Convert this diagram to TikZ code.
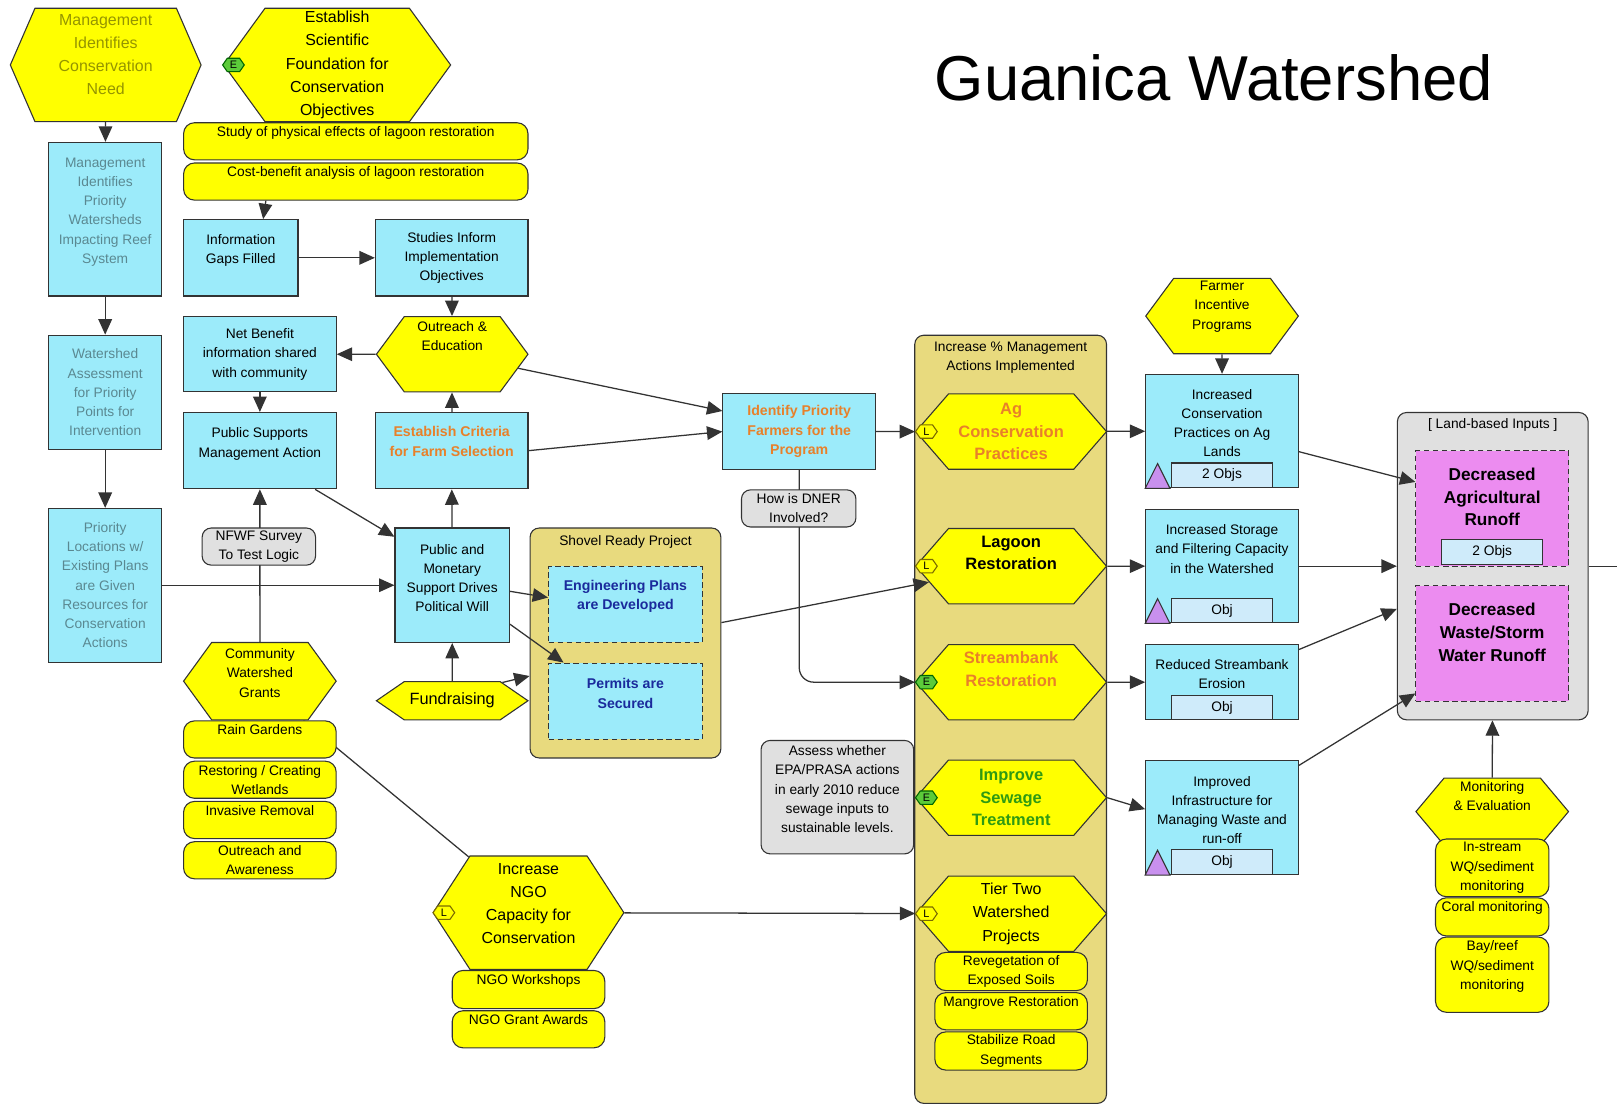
\documentclass[tikz,border=0pt]{standalone}
\usepackage{fontspec}
\setmainfont{Liberation Sans}
\usepackage{tikz}
\usetikzlibrary{shapes.symbols, arrows.meta, positioning, calc}
\definecolor{cyanbox}{HTML}{9CEBFA}
\definecolor{hexyel}{HTML}{FFFF00}
\definecolor{khaki}{HTML}{E8DA7E}
\definecolor{greybox}{HTML}{E0E0E0}
\definecolor{runoff}{HTML}{EC8CF0}
\definecolor{objblue}{HTML}{CFEBFA}
\definecolor{lilac}{HTML}{C890EE}
\definecolor{orangetxt}{HTML}{E8802A}
\definecolor{greentxt}{HTML}{2F9A12}
\definecolor{bluetxt}{HTML}{1A2A9C}
\definecolor{lineclr}{HTML}{333333}
\definecolor{badgegreen}{HTML}{5CCB3A}
\definecolor{badgeline}{HTML}{7A6A00}
\pgfdeclarelayer{back}
\pgfdeclarelayer{links}
\pgfsetlayers{back,links,main}

\begin{document}
\begin{tikzpicture}[x=0.02cm, y=-0.02cm,
  box/.style={rectangle, draw=lineclr, fill=cyanbox, line width=0.6pt, align=center,
    inner sep=1pt, font=\fontsize{7.6}{10.6}\selectfont},
  hexa/.style={signal, signal to=east and west, draw=lineclr, fill=hexyel, line width=0.6pt,
    align=center, inner sep=1pt, font=\fontsize{7.6}{10.6}\selectfont},
  pill/.style={rectangle, rounded corners=6pt, draw=lineclr, fill=hexyel, line width=0.6pt,
    align=center, inner sep=1pt, font=\fontsize{7.6}{10.6}\selectfont},
  pilltop/.style={pill, text depth=11pt},
  note/.style={rectangle, rounded corners=5pt, draw=lineclr, fill=greybox, line width=0.6pt,
    align=center, inner sep=1pt, font=\fontsize{7.6}{10.6}\selectfont},
  group/.style={rectangle, rounded corners=5pt, draw=lineclr, line width=0.6pt},
  plan/.style={box, dashed, dash pattern=on 3pt off 2pt, text=bluetxt,
    font=\fontsize{7.8}{10.8}\selectfont\bfseries},
  goal/.style={rectangle, draw=lineclr, dashed, dash pattern=on 3pt off 2pt, fill=runoff,
    line width=0.6pt, align=center, inner sep=1pt, font=\fontsize{9.5}{12.5}\selectfont\bfseries},
  objbox/.style={rectangle, draw=lineclr, fill=objblue, line width=0.6pt, minimum width=1.96cm,
    minimum height=0.48cm, inner sep=0pt, font=\fontsize{7.6}{10.6}\selectfont},
  badge/.style={signal, signal to=east and west, signal pointer angle=110, minimum width=0.42cm,
    minimum height=0.26cm, inner sep=0pt, line width=0.6pt, font=\fontsize{6}{6}\selectfont},
  lbadge/.style={badge, draw=badgeline, fill=hexyel},
  ebadge/.style={badge, draw=green!40!black, fill=badgegreen},
  tri/.style={draw=lineclr, fill=lilac, line width=0.6pt},
  faded/.style={text opacity=0.42},
  bigtxt/.style={font=\fontsize{8.8}{12.8}\selectfont},
  boldtxt/.style={font=\fontsize{9.1}{12.5}\selectfont\bfseries},
  boldsmall/.style={font=\fontsize{7.8}{10.8}\selectfont\bfseries},
  arr/.style={-{Triangle[length=8.5pt,width=7.5pt]}, draw=lineclr, line width=0.7pt},
]
  \useasboundingbox (0,0) rectangle (1568,1072);

  % containers
  \begin{pgfonlayer}{back}
    \node[group, fill=khaki, minimum width=3.7cm, minimum height=4.46cm] (shovel) at (606.5,623.5) {};
    \node[group, fill=khaki, minimum width=3.72cm, minimum height=14.9cm] (actions) at (980,697.5) {};
    \node[group, fill=greybox, minimum width=3.7cm, minimum height=5.96cm] (land) at (1447.5,549) {};
  \end{pgfonlayer}
  \node[font=\fontsize{7.6}{10.6}\selectfont, below=0.03cm of shovel.north] (shovel-t) {Shovel Ready Project};
  \node[font=\fontsize{7.6}{10.6}\selectfont, align=center, below=0.02cm of actions.north] (actions-t)
    {Increase \% Management\\Actions Implemented};
  \node[font=\fontsize{7.6}{10.6}\selectfont, below=0pt of land.north] (land-t) {[ Land-based Inputs ]};

  \node[font=\fontsize{35}{40}\selectfont, inner sep=0pt] (title) at (1177,75) {Guanica Watershed};

  % left column
  \node[hexa, faded, bigtxt, minimum width=3.7cm, minimum height=2.2cm, signal pointer angle=133,
    text depth=11.5pt] (need) at (102.5,63) {Management\\Identifies\\Conservation\\Need};
  \node[box, faded, minimum width=2.2cm, minimum height=2.98cm, text depth=9.5pt] (priority) at (102,212.5)
    {Management\\Identifies\\Priority\\Watersheds\\Impacting Reef\\System};
  \node[box, faded, minimum width=2.2cm, minimum height=2.22cm] (assess) at (102,380.5)
    {Watershed\\Assessment\\for Priority\\Points for\\Intervention};
  \node[box, faded, minimum width=2.2cm, minimum height=2.98cm] (locations) at (102,567.5)
    {Priority\\Locations w/\\Existing Plans\\are Given\\Resources for\\Conservation\\Actions};

  % science and outreach
  \node[hexa, bigtxt, minimum width=4.4cm, minimum height=2.2cm, signal pointer angle=108] (science) at (327,63)
    {Establish\\Scientific\\Foundation for\\Conservation\\Objectives};
  \node[ebadge] (science-e) at ($(science.west)+(10,0)$) {E};
  \node[pilltop, minimum width=6.68cm, minimum height=0.72cm] (physical) at (345,137)
    {Study of physical effects of lagoon restoration};
  \node[pilltop, minimum width=6.68cm, minimum height=0.72cm, below=0.04cm of physical] (costben)
    {Cost-benefit analysis of lagoon restoration};
  \node[box, minimum width=2.22cm, minimum height=1.48cm, text depth=10pt] (gaps) at (233.5,250)
    {Information\\Gaps Filled};
  \node[box, minimum width=2.96cm, minimum height=1.48cm] (inform) at (438,250)
    {Studies Inform\\Implementation\\Objectives};
  \node[hexa, minimum width=2.94cm, minimum height=1.46cm, signal pointer angle=107, text depth=20pt]
    (outreach) at (438.5,343.5) {Outreach \&\\Education};
  \node[box, minimum width=2.96cm, minimum height=1.46cm] (benefit) at (252,343.5)
    {Net Benefit\\information shared\\with community};
  \node[box, minimum width=2.96cm, minimum height=1.48cm, text depth=9pt] (support) at (252,437)
    {Public Supports\\Management Action};
  \node[box, boldsmall, text=orangetxt, minimum width=2.96cm, minimum height=1.48cm, text depth=10pt]
    (criteria) at (438,437) {Establish Criteria\\for Farm Selection};
  \node[note, minimum width=2.2cm, minimum height=0.72cm] (nfwf) at (251,530) {NFWF Survey\\To Test Logic};
  \node[box, minimum width=2.22cm, minimum height=2.22cm, text depth=8pt] (political) at (438.5,567.5)
    {Public and\\Monetary\\Support Drives\\Political Will};
  \node[hexa, minimum width=2.96cm, minimum height=1.5cm, signal pointer angle=108, text depth=9pt]
    (grants) at (252,660.5) {Community\\Watershed\\Grants};
  \node[hexa, font=\fontsize{9}{11}\selectfont, minimum width=2.94cm, minimum height=0.74cm,
    signal pointer angle=69] (funds) at (438.5,679.5) {Fundraising};
  \node[plan, minimum width=2.98cm, minimum height=1.48cm, text depth=10.5pt] (engineering) at (606.5,586)
    {Engineering Plans\\are Developed};
  \node[plan, minimum width=2.98cm, minimum height=1.48cm, text depth=9pt] (permits) at (606.5,680)
    {Permits are\\Secured};

  % NGO capacity
  \node[hexa, bigtxt, minimum width=3.7cm, minimum height=2.2cm, signal pointer angle=114, text depth=10pt]
    (ngo) at (512.5,885) {Increase\\NGO\\Capacity for\\Conservation};
  \node[lbadge] (ngo-l) at ($(ngo.west)+(11,0)$) {L};
  \draw[arr] (ngo.137) -- (grants.-42);
  \node[pilltop, minimum width=2.96cm, minimum height=0.72cm, below=0pt of grants] (rain) {Rain Gardens};
  \node[pill, minimum width=2.96cm, minimum height=0.72cm, below=0.04cm of rain] (wetlands)
    {Restoring / Creating\\Wetlands};
  \node[pilltop, minimum width=2.96cm, minimum height=0.72cm, below=0.04cm of wetlands] (invasive)
    {Invasive Removal};
  \node[pill, minimum width=2.96cm, minimum height=0.72cm, below=0.04cm of invasive] (awareness)
    {Outreach and\\Awareness};
  \node[pilltop, minimum width=2.96cm, minimum height=0.74cm, below=0pt of ngo] (workshops) {NGO Workshops};
  \node[pilltop, minimum width=2.96cm, minimum height=0.72cm, below=0.02cm of workshops] (awards)
    {NGO Grant Awards};

  % farmers and notes
  \node[box, boldsmall, text=orangetxt, minimum width=2.96cm, minimum height=1.46cm] (farmers) at (775,418.5)
    {Identify Priority\\Farmers for the\\Program};
  \node[note, minimum width=2.22cm, minimum height=0.72cm] (dner) at (774.5,493) {How is DNER\\Involved?};
  \node[note, minimum width=2.96cm, minimum height=2.2cm, text depth=9pt] (epa) at (812,773)
    {Assess whether\\EPA/PRASA actions\\in early 2010 reduce\\sewage inputs to\\sustainable levels.};

  % management actions
  \node[hexa, boldtxt, text=orangetxt, minimum width=3.7cm, minimum height=1.46cm, signal pointer angle=98]
    (agcons) at (980.5,418.5) {Ag\\Conservation\\Practices};
  \node[hexa, boldtxt, minimum width=3.7cm, minimum height=1.46cm, signal pointer angle=98, text depth=14.8pt]
    (lagoon) at (980.5,549) {Lagoon\\Restoration};
  \node[hexa, boldtxt, text=orangetxt, minimum width=3.7cm, minimum height=1.46cm, signal pointer angle=98,
    text depth=14.8pt] (stream) at (980.5,661.5) {Streambank\\Restoration};
  \node[hexa, boldtxt, text=greentxt, minimum width=3.7cm, minimum height=1.46cm, signal pointer angle=98]
    (sewage) at (980.5,773.5) {Improve\\Sewage\\Treatment};
  \node[hexa, bigtxt, minimum width=3.7cm, minimum height=1.46cm, signal pointer angle=98]
    (tiertwo) at (980.5,886) {Tier Two\\Watershed\\Projects};
  \node[lbadge] (agcons-l) at ($(agcons.west)+(11,0)$) {L};
  \node[lbadge] (lagoon-l) at ($(lagoon.west)+(11,0)$) {L};
  \node[ebadge] (stream-e) at ($(stream.west)+(11,0)$) {E};
  \node[ebadge] (sewage-e) at ($(sewage.west)+(11,0)$) {E};
  \node[lbadge] (tiertwo-l) at ($(tiertwo.west)+(11,0)$) {L};
  \node[pill, minimum width=2.96cm, minimum height=0.74cm, below=0pt of tiertwo] (reveg)
    {Revegetation of\\Exposed Soils};
  \node[pilltop, minimum width=2.96cm, minimum height=0.72cm, below=0.02cm of reveg] (mangrove)
    {Mangrove Restoration};
  \node[pill, minimum width=2.96cm, minimum height=0.74cm, below=0.02cm of mangrove] (roads)
    {Stabilize Road\\Segments};

  % outcomes
  \node[hexa, minimum width=2.96cm, minimum height=1.46cm, signal pointer angle=107, text depth=12pt]
    (incentive) at (1185,306.5) {Farmer\\Incentive\\Programs};
  \node[box, minimum width=2.96cm, minimum height=2.2cm, text depth=9pt] (agpract) at (1185,418)
    {Increased\\Conservation\\Practices on Ag\\Lands};
  \node[objbox, anchor=south] (agpract-o) at (agpract.south) {2 Objs};
  \filldraw[tri] (agpract.south west) -- ++(12,-24) -- ++(12,24) -- cycle;
  \node[box, minimum width=2.96cm, minimum height=2.2cm, text depth=19pt] (storage) at (1185,549)
    {Increased Storage\\and Filtering Capacity\\in the Watershed};
  \node[objbox, anchor=south] (storage-o) at (storage.south) {Obj};
  \filldraw[tri] (storage.south west) -- ++(12,-24) -- ++(12,24) -- cycle;
  \node[box, minimum width=2.96cm, minimum height=1.46cm, text depth=9pt] (erosion) at (1185,661.5)
    {Reduced Streambank\\Erosion};
  \node[objbox, anchor=south] (erosion-o) at (erosion.south) {Obj};
  \node[box, minimum width=2.96cm, minimum height=2.22cm, text depth=8pt] (infra) at (1185,792.5)
    {Improved\\Infrastructure for\\Managing Waste and\\run-off};
  \node[objbox, anchor=south] (infra-o) at (infra.south) {Obj};
  \filldraw[tri] (infra.south west) -- ++(12,-24) -- ++(12,24) -- cycle;

  % land-based inputs
  \node[goal, minimum width=2.96cm, minimum height=2.24cm, text depth=12.5pt] (agrunoff) at (1447,493)
    {Decreased\\Agricultural\\Runoff};
  \node[objbox, anchor=south] (agrunoff-o) at ($(agrunoff.south)+(0,-2)$) {2 Objs};
  \node[goal, minimum width=2.96cm, minimum height=2.24cm, text depth=12.5pt] (wasterunoff) at (1447,624)
    {Decreased\\Waste/Storm\\Water Runoff};
  \node[hexa, minimum width=2.96cm, minimum height=1.3cm, signal pointer angle=100, text depth=17pt]
    (monitor) at (1447,787) {Monitoring\\\& Evaluation};
  \node[pill, minimum width=2.2cm, minimum height=1.12cm, below=-0.14cm of monitor] (instream)
    {In-stream\\WQ/sediment\\monitoring};
  \node[pilltop, minimum width=2.2cm, minimum height=0.74cm, below=0pt of instream] (coral) {Coral monitoring};
  \node[pill, minimum width=2.2cm, minimum height=1.46cm, text depth=10.5pt, below=0pt of coral] (bayreef)
    {Bay/reef\\WQ/sediment\\monitoring};
  \coordinate (offpage) at (1568,549);

  % connectors
  \begin{pgfonlayer}{links}
    \draw[arr] (need) -- (priority);
    \draw[arr] (priority) -- (assess);
    \draw[arr] (assess) -- (locations);
    \draw[arr] (costben.192) -- (gaps.60);
    \draw[arr] (gaps) -- (inform);
    \draw[arr] (inform) -- (outreach);
    \draw[arr] (outreach) -- (benefit);
    \draw[arr] (benefit) -- (support);
    \draw[arr] (criteria) -- (outreach);
    \draw[arr] (political) -- (criteria);
    \draw[arr] (support.-35) -- (political.140);
    \draw[arr] (grants) -- (support);
    \draw[arr] (locations) -- (political);
    \draw[arr] (funds) -- (political);
    \draw[arr] (funds.20) -- (shovel.199);
    \draw[arr] (political.-6) -- (engineering.175);
    \draw[arr] (political.-34) -- (permits.148);
    \draw[arr] (outreach.-12) -- (farmers.165);
    \draw[arr] (criteria.east) -- (farmers.west);
    \draw[arr] (farmers) -- (agcons);
    \draw[arr, rounded corners=8pt] (farmers.south) |- (stream.west);
    \draw[arr] (shovel.12) -- (lagoon.191);
    \draw[arr] (ngo) -- (tiertwo);
    \draw[arr] (agcons) -- (agpract);
    \draw[arr] (lagoon) -- (storage);
    \draw[arr] (stream) -- (erosion);
    \draw[arr] (sewage.east) -- (infra.174);
    \draw[arr] (incentive) -- (agpract);
    \draw[arr] (agpract.-15) -- (agrunoff.161);
    \draw[arr] (storage) -- (land);
    \draw[arr] (erosion.23) -- (land.204);
    \draw[arr] (infra.34) -- (wasterunoff.213);
    \draw[arr] (monitor) -- (land);
    \draw[draw=lineclr, line width=0.7pt] (land.east) -- (offpage);
  \end{pgfonlayer}
\end{tikzpicture}
\end{document}
